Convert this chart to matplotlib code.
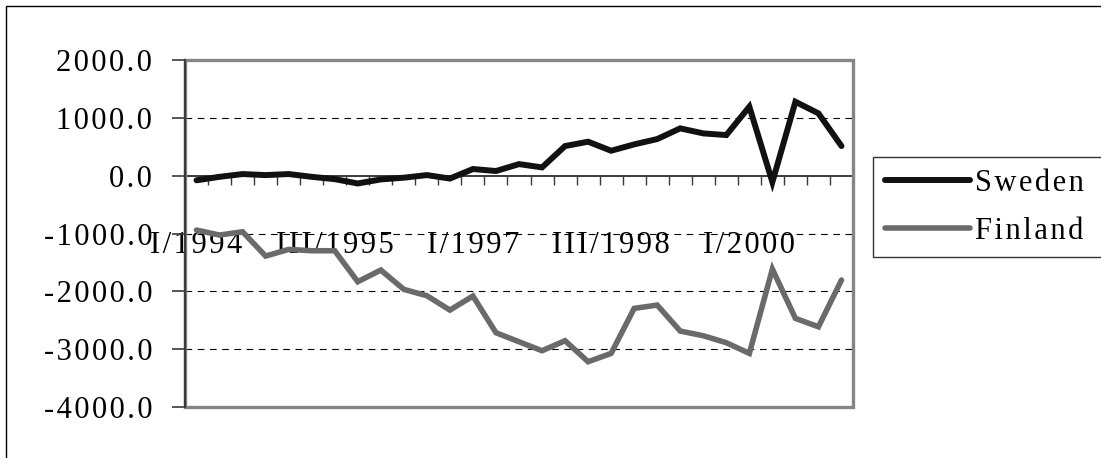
import matplotlib
matplotlib.use("Agg")
import matplotlib.pyplot as plt
from matplotlib.patches import Rectangle
from matplotlib.ticker import FuncFormatter, FixedLocator

plt.rcParams['font.family'] = ['Liberation Serif', 'DejaVu Serif']
plt.rcParams['axes.unicode_minus'] = False

quarters = [f"{q}/{y}" for y in range(1994, 2002) for q in ["I", "II", "III", "IV"]][:29]
sweden = [-80, -20, 28, 10, 28, -20, -60, -135, -65, -35, 10, -50, 115, 80, 200,
          143, 512, 587, 431, 541, 633, 818, 731, 702, 1192, -110, 1278, 1077, 512]
finland = [-941, -1027, -970, -1390, -1275, -1298, -1298, -1834, -1632, -1966, -2076,
           -2324, -2082, -2716, -2872, -3027, -2854, -3217, -3073, -2295, -2238,
           -2687, -2768, -2889, -3073, -1615, -2468, -2613, -1805]
series_names = ['Sweden', 'Finland']
label_idx = [0, 6, 12, 18, 24]
y_ticks = [2000, 1000, 0, -1000, -2000, -3000, -4000]

HS = '\u200a'  # hair space to mimic the wide letter spacing of the original


def spaced(s):
    return HS.join(s)


W, H = 1101, 458
fig = plt.figure(figsize=(W / 100, H / 100), dpi=100)
fig.patch.set_facecolor('white')

# outer frame
fig.add_artist(Rectangle((6 / W, -0.1), 1.2, 1 - 6 / H + 0.1, transform=fig.transFigure,
                         fill=False, ec='black', lw=1.0))

ax = fig.add_axes([185 / W, 1 - 407 / H, (853 - 185) / W, (407 - 60) / H])
x = list(range(len(quarters)))

ax.set_xlim(-0.5, len(quarters) - 0.5)
ax.set_ylim(-4000, 2000)

for v in [1000, -1000, -2000, -3000]:
    ax.axhline(v, color='black', lw=0.8, ls=(0, (6, 5)), zorder=1)

l1, = ax.plot(x, sweden, color='#111111', lw=4.3, solid_joinstyle='miter',
              solid_capstyle='round', zorder=4)
l2, = ax.plot(x, finland, color='#6a6a6a', lw=4.0, solid_joinstyle='miter',
              solid_capstyle='round', zorder=3)

# plot area border
ax.add_patch(Rectangle((0, 0), 1, 1, transform=ax.transAxes, fill=False,
                       ec='#858585', lw=2.4, zorder=5, clip_on=False))
for s in ['top', 'right']:
    ax.spines[s].set_visible(False)
ax.spines['left'].set_color('#3a3a3a')
ax.spines['left'].set_linewidth(1.6)
ax.spines['left'].set_zorder(6)
ax.spines['bottom'].set_position(('data', 0))
ax.spines['bottom'].set_color('#3a3a3a')
ax.spines['bottom'].set_linewidth(1.4)

ax.yaxis.set_major_locator(FixedLocator(y_ticks))
ax.yaxis.set_major_formatter(FuncFormatter(lambda v, p: spaced(f"{v:.1f}")))
ax.tick_params(axis='y', direction='out', length=9.5, width=1.2, color='#3a3a3a',
               pad=14, labelsize=22)

ax.set_xticks(label_idx)
ax.set_xticklabels([spaced(quarters[i]) for i in label_idx])
ax.set_xticks([i + 0.5 for i in range(len(quarters) - 1)], minor=True)
ax.tick_params(axis='x', which='major', length=0, pad=39.5, labelsize=22)
ax.tick_params(axis='x', which='minor', direction='out', length=6.5, width=1.0,
               color='#3a3a3a')

leg = fig.legend(handles=[l1, l2], labels=[spaced(n) for n in series_names],
                 loc='upper left', bbox_to_anchor=(873 / W, 1 - 157 / H, 0.3, 0.0),
                 mode='expand', frameon=True, fancybox=False, shadow=False,
                 fontsize=22, handlelength=2.8, handletextpad=0.15,
                 labelspacing=0.62, borderpad=0.38, borderaxespad=0.0)
leg.get_frame().set_edgecolor('black')
leg.get_frame().set_linewidth(1.0)

fig.savefig('out.png', dpi=100, facecolor='white')
